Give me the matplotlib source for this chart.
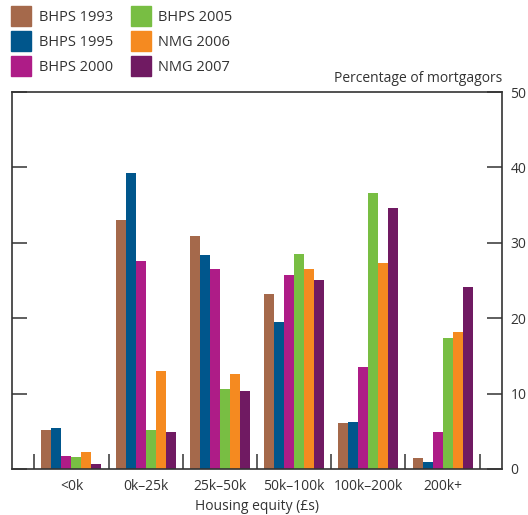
import numpy as np
import matplotlib.pyplot as plt
from matplotlib.lines import Line2D

plt.rcParams['font.family'] = ['Open Sans', 'DejaVu Sans']

categories = ["<0k", "0k\u201325k", "25k\u201350k", "50k\u2013100k", "100k\u2013200k", "200k+"]
series_names = ["BHPS 1993", "BHPS 1995", "BHPS 2000", "BHPS 2005", "NMG 2006", "NMG 2007"]

bhps_1993 = [5.2, 33.0, 30.9, 23.2, 6.1, 1.5]
bhps_1995 = [5.4, 39.3, 28.4, 19.5, 6.2, 0.9]
bhps_2000 = [1.7, 27.6, 26.5, 25.7, 13.5, 4.9]
bhps_2005 = [1.6, 5.2, 10.6, 28.5, 36.6, 17.4]
nmg_2006 = [2.3, 13.0, 12.6, 26.5, 27.3, 18.2]
nmg_2007 = [0.7, 4.9, 10.3, 25.1, 34.6, 24.1]

series = [bhps_1993, bhps_1995, bhps_2000, bhps_2005, nmg_2006, nmg_2007]
colors = ["#A5694B", "#00568C", "#AE1C87", "#78BE43", "#F58A20", "#701A62"]

text_col = "#333333"
spine_col = "#333333"

fig = plt.figure(figsize=(5.28, 5.15), dpi=100)
ax = fig.add_axes([12/528, 46/515, 490/528, 377/515])

x = np.arange(len(categories))
bar_width = 0.135
for i, (vals, name, c) in enumerate(zip(series, series_names, colors)):
    ax.bar(x + (i - 2.5) * bar_width, vals, bar_width, color=c, label=name, linewidth=0)

ax.set_xlim(-0.8, 5.8)
ax.set_ylim(0, 50)

for s in ax.spines.values():
    s.set_color(spine_col)
    s.set_linewidth(1.2)

# y axis: ticks inside on both sides, labels on the right only
ax.set_yticks([0, 10, 20, 30, 40, 50])
ax.tick_params(axis='y', which='major', direction='in', length=10.5, width=1.1,
               color=spine_col, left=True, right=True, labelleft=False, labelright=True,
               labelsize=10, labelcolor=text_col, pad=6)

# x axis: labels at centres, separator ticks at boundaries
ax.set_xticks(x)
ax.set_xticklabels(categories)
ax.set_xticks(np.arange(-0.5, 6.0, 1.0), minor=True)
ax.tick_params(axis='x', which='major', length=0, labelsize=10, labelcolor=text_col, pad=7)
ax.tick_params(axis='x', which='minor', direction='in', length=11, width=1.1, color=spine_col)

ax.set_xlabel("Housing equity (\u00a3s)", fontsize=10, color=text_col, labelpad=4)
fig.text(502/528, 1 - 78/515, "Percentage of mortgagors", ha='right', va='center',
         fontsize=10, color=text_col)

handles = [Line2D([], [], marker='s', linestyle='none', markersize=14, color=c) for c in colors]
fig.legend(handles, series_names, loc='upper left', bbox_to_anchor=(0.0, 1.0), ncol=2,
           frameon=False, fontsize=10.5, labelcolor=text_col, handletextpad=0.45,
           columnspacing=1.15, labelspacing=0.68, handlelength=1.5, borderaxespad=0.3)

fig.savefig("out.png", dpi=100)
